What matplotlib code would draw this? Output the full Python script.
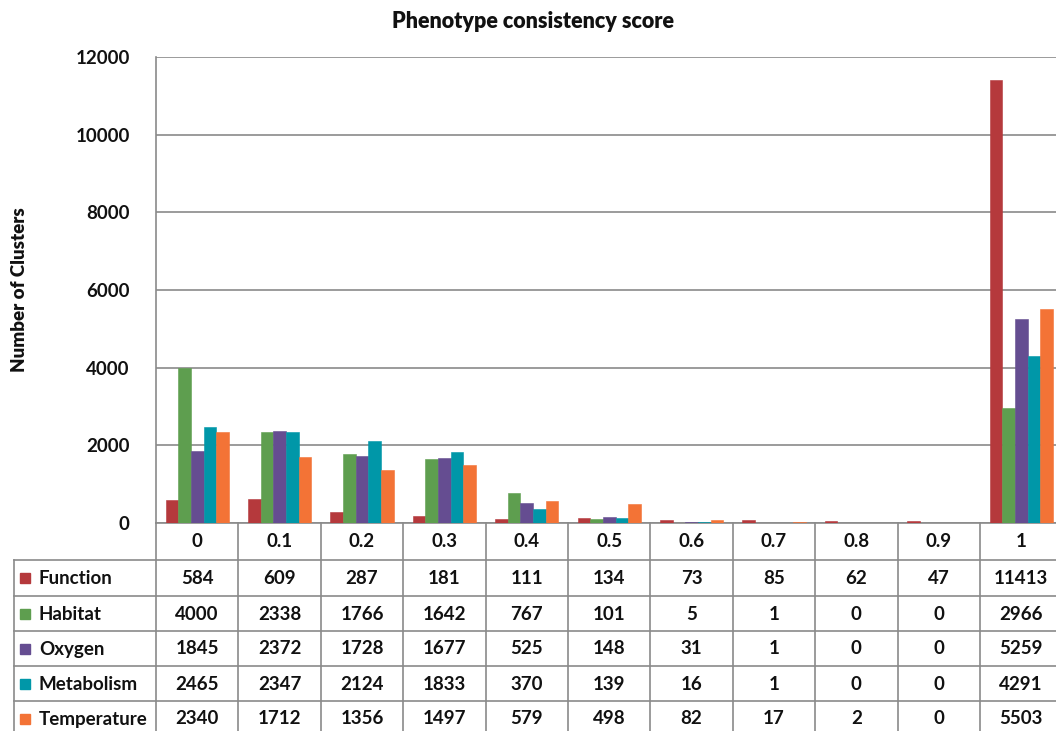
import numpy as np
import matplotlib; matplotlib.use("Agg")
import matplotlib.pyplot as plt

plt.rcParams['font.family'] = ['Lato', 'DejaVu Sans']

scores = ["0", "0.1", "0.2", "0.3", "0.4", "0.5", "0.6", "0.7", "0.8", "0.9", "1"]
series = ["Function", "Habitat", "Oxygen", "Metabolism", "Temperature"]
function = [584, 609, 287, 181, 111, 134, 73, 85, 62, 47, 11413]
habitat = [4000, 2338, 1766, 1642, 767, 101, 5, 1, 0, 0, 2966]
oxygen = [1845, 2372, 1728, 1677, 525, 148, 31, 1, 0, 0, 5259]
metabolism = [2465, 2347, 2124, 1833, 370, 139, 16, 1, 0, 0, 4291]
temperature = [2340, 1712, 1356, 1497, 579, 498, 82, 17, 2, 0, 5503]
colors = ["#B5393C", "#5E9E4F", "#654D91", "#0097A8", "#F37336"]

data = [function, habitat, oxygen, metabolism, temperature]
GRID = "#8a8a8a"; TXT = "#111111"
W, H = 1056, 731
colw = 82.4
left_px = 156
FW = 'bold'

fig = plt.figure(figsize=(W/100, H/100), dpi=100)
fig.patch.set_facecolor("white")

# main plot
ax = fig.add_axes([left_px/W, (H-523)/H, 11*colw/W, 466/H])
x = np.arange(len(scores))
bw = 0.153
for k, (vals, c) in enumerate(zip(data, colors)):
    ax.bar(x + (k-2)*bw, vals, bw, color=c, edgecolor=c, linewidth=0.4, zorder=3)
ax.set_xlim(-0.5, 10.5); ax.set_ylim(0, 12000)
ax.set_yticks(range(0, 12001, 2000))
ax.set_yticklabels([str(v) for v in range(0, 12001, 2000)], fontsize=13.5, color=TXT, fontweight=FW)
ax.tick_params(axis='y', length=0, pad=19)
ax.set_xticks([])
ax.grid(axis='y', color=GRID, lw=1.2, zorder=0)
for s in ["top", "right"]:
    ax.spines[s].set_visible(False)
ax.spines["left"].set_color(GRID); ax.spines["left"].set_linewidth(1.2)
ax.spines["bottom"].set_color(GRID); ax.spines["bottom"].set_linewidth(1.2)
fig.text(20/W, 1-290/H, "Number of Clusters", rotation=90, ha='center', va='center',
         fontsize=13.5, fontweight='heavy', color=TXT)
fig.text(533/W, 1-22/H, "Phenotype consistency score", ha='center', va='center',
         fontsize=15.5, fontweight='heavy', color=TXT)

# data table below
tax = fig.add_axes([left_px/W, 0, 11*colw/W, 208/H])
tax.set_xlim(-0.5, 10.5); tax.set_ylim(208, 0); tax.axis('off')
def px2x(px):
    return (px-left_px)/colw - 0.5
row_lines = [37, 73, 108, 143, 178]
row_ctr = [55, 91, 126, 161, 196]
lkw = dict(color=GRID, lw=1.2, clip_on=False)
for i in range(len(scores)+1):
    tax.plot([i-0.5, i-0.5], [0, 208], **lkw)
for yl in row_lines:
    tax.plot([px2x(14), 10.5], [yl, yl], **lkw)
tax.plot([px2x(14), px2x(14)], [37, 208], **lkw)
for i, s in enumerate(scores):
    tax.text(i, 18.5, s, ha='center', va='center', fontsize=13.5, color=TXT, fontweight=FW)
for r, (name, vals, c) in enumerate(zip(series, data, colors)):
    yc = row_ctr[r]
    tax.add_patch(plt.Rectangle((px2x(20), yc-5), 10/colw, 10, color=c, clip_on=False))
    tax.text(px2x(39), yc, name, ha='left', va='center', fontsize=13.5, color=TXT,
             fontweight=FW, clip_on=False)
    for i, v in enumerate(vals):
        tax.text(i, yc, str(v), ha='center', va='center', fontsize=13.5, color=TXT, fontweight=FW)

fig.savefig("out.png", dpi=100, facecolor="white")
